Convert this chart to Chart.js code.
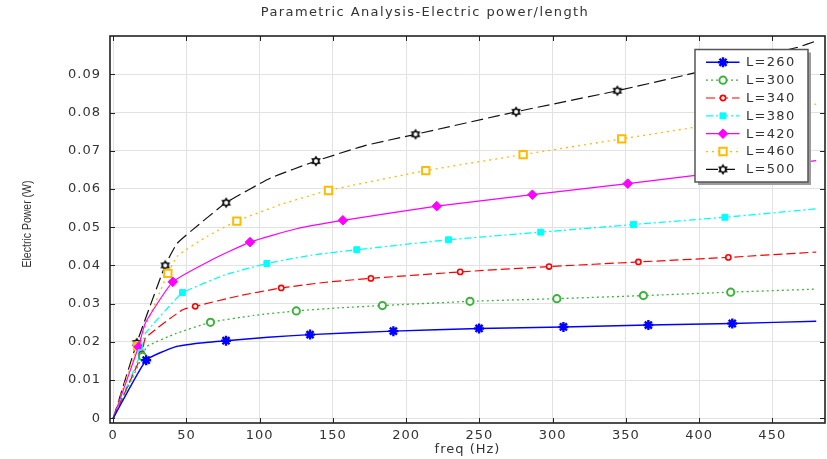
<!DOCTYPE html>
<html>
<head>
<meta charset="utf-8">
<script src="https://cdn.jsdelivr.net/npm/chart.js@4.4.1/dist/chart.umd.min.js"></script>
<style>
html,body{margin:0;padding:0;background:#fff;}
#wrap{width:827px;height:459px;position:relative;}
</style>
</head>
<body>
<div id="wrap"><canvas id="c" width="827" height="459"></canvas></div>
<script>
// ---- text ----
const chartTitle = 'Parametric Analysis-Electric power/length';
const xTitle = 'freq (Hz)';
const yTitle = 'Electric Power (W)';
const seriesLabels = ['L=260', 'L=300', 'L=340', 'L=380', 'L=420', 'L=460', 'L=500'];

// ---- ticks ----
const xTicks = [0, 50, 100, 150, 200, 250, 300, 350, 400, 450];
const xTickLabels = ['0', '50', '100', '150', '200', '250', '300', '350', '400', '450'];
const yTicks = [0, 0.01, 0.02, 0.03, 0.04, 0.05, 0.06, 0.07, 0.08, 0.09];
const yTickLabels = ['0', '0.01', '0.02', '0.03', '0.04', '0.05', '0.06', '0.07', '0.08', '0.09'];

// ---- series (freq in Hz, power in W); marks = indices that carry a marker ----
const freq260  = [0, 22.5, 42.3, 59.6, 77.0, 105.7, 134.4, 191.3, 249.8, 307.4, 365.4, 422.7, 480];
const power260 = [0, 0.0152, 0.0187, 0.0197, 0.0203, 0.0212, 0.0219, 0.0228, 0.0235, 0.0239, 0.0244, 0.0248, 0.0254];
const marks260 = [1, 4, 6, 7, 8, 9, 10, 11];

const freq300  = [0, 20.0, 23.0, 43.0, 66.4, 95.7, 125.0, 154.4, 183.8, 243.6, 302.9, 362.0, 421.6, 480];
const power300 = [0, 0.0162, 0.0188, 0.0222, 0.0251, 0.0269, 0.0281, 0.0289, 0.0295, 0.0306, 0.0313, 0.0321, 0.0330, 0.0338];
const marks300 = [1, 4, 6, 8, 9, 10, 11, 12];

const freq340  = [0, 19.6, 22.0, 46.9, 56.0, 85.4, 114.7, 145.3, 175.9, 236.9, 297.6, 358.6, 420.0, 480];
const power340 = [0, 0.0168, 0.0210, 0.0283, 0.0293, 0.0320, 0.0341, 0.0356, 0.0366, 0.0383, 0.0397, 0.0409, 0.0421, 0.0435];
const marks340 = [1, 4, 6, 8, 9, 10, 11, 12];

const freq380  = [0, 19.0, 22.0, 43.0, 47.3, 76.1, 104.9, 135.6, 166.3, 228.9, 291.9, 355.2, 417.7, 480];
const power380 = [0, 0.0172, 0.0222, 0.0313, 0.0329, 0.0375, 0.0405, 0.0427, 0.0441, 0.0467, 0.0487, 0.0507, 0.0526, 0.0548];
const marks380 = [1, 4, 6, 8, 9, 10, 11, 12];

const freq420  = [0, 17.3, 22.0, 40.7, 67.0, 93.4, 125.1, 156.8, 220.9, 286.2, 351.3, 480];
const power420 = [0, 0.0187, 0.0250, 0.0357, 0.0414, 0.0461, 0.0496, 0.0518, 0.0555, 0.0585, 0.0614, 0.0674];
const marks420 = [1, 3, 5, 7, 8, 9, 10];

const freq460  = [0, 16.6, 37.3, 44.0, 64.2, 84.4, 115.7, 147.0, 213.4, 279.9, 347.2, 396.0, 480];
const power460 = [0, 0.0189, 0.0379, 0.0425, 0.0476, 0.0516, 0.0561, 0.0596, 0.0648, 0.0690, 0.0731, 0.0761, 0.0822];
const marks460 = [1, 2, 5, 7, 8, 9, 10];

const freq500  = [0, 16.1, 35.5, 43.5, 54.1, 77.1, 107.7, 138.4, 172.4, 206.4, 275.1, 344.2, 394.0, 466.7, 480];
const power500 = [0, 0.0197, 0.0400, 0.0457, 0.0493, 0.0564, 0.0629, 0.0673, 0.0714, 0.0743, 0.0802, 0.0857, 0.0901, 0.0970, 0.0987];
const marks500 = [1, 2, 5, 7, 9, 10, 11];

// ---- marker image for L=500 ----
function starMarker() {
  const c = document.createElement('canvas');
  c.width = 12; c.height = 12;
  const g = c.getContext('2d');
  g.translate(6, 6);
  g.beginPath();
  for (let i = 0; i < 12; i++) {
    const r = i % 2 ? 3.4 : 5.6;
    const a = -Math.PI / 2 + i * Math.PI / 6;
    g.lineTo(r * Math.cos(a), r * Math.sin(a));
  }
  g.closePath();
  g.fillStyle = '#111';
  g.fill();
  g.beginPath();
  g.arc(0, 0, 2, 0, Math.PI * 2);
  g.fillStyle = '#fff';
  g.fill();
  return c;
}

const styles = [
  {color: '#0000ff', dash: [], width: 1.4, ps: 'star', r: 5, bw: 2.4, bg: '#0000ff'},
  {color: '#3cb43c', dash: [2, 3], width: 1.3, ps: 'circle', r: 3.6, bw: 2, bg: '#ffffff'},
  {color: '#ff0000', dash: [9, 4], width: 1.2, ps: 'circle', r: 2.6, bw: 1.6, bg: '#ffffff'},
  {color: '#00ffff', dash: [7, 3, 2, 3], width: 1.3, ps: 'rect', r: 4.2, bw: 1, bg: '#00ffff'},
  {color: '#ff00ff', dash: [], width: 1.2, ps: 'rectRot', r: 4.8, bw: 1, bg: '#ff00ff'},
  {color: '#ffbb00', dash: [2, 4], width: 1.3, ps: 'rect', r: 5.2, bw: 2, bg: '#ffffff'},
  {color: '#111111', dash: [12, 5], width: 1.2, ps: starMarker(), r: 5, bw: 1, bg: '#111111'}
];

const seriesFreq = [freq260, freq300, freq340, freq380, freq420, freq460, freq500];
const seriesPower = [power260, power300, power340, power380, power420, power460, power500];
const seriesMarks = [marks260, marks300, marks340, marks380, marks420, marks460, marks500];

const datasets = seriesLabels.map((lab, k) => {
  const s = styles[k];
  const marks = seriesMarks[k];
  return {
    label: lab,
    data: seriesFreq[k].map((f, i) => ({x: f, y: seriesPower[k][i]})),
    borderColor: s.color,
    backgroundColor: s.bg,
    borderWidth: s.width,
    borderDash: s.dash,
    tension: 0.15,
    pointStyle: s.ps,
    pointRadius: c => marks.includes(c.dataIndex) ? s.r : 0,
    pointHoverRadius: c => marks.includes(c.dataIndex) ? s.r : 0,
    pointBorderWidth: s.bw,
    pointBorderColor: s.color,
    pointBackgroundColor: s.bg,
    fill: false
  };
});

const textFont = '"DejaVu Sans", Verdana, sans-serif';

const decorPlugin = {
  id: 'decor',
  beforeDraw(chart) {
    chart.ctx.letterSpacing = '1px';
  },
  afterDatasetsDraw(chart) {
    const ctx = chart.ctx;
    const a = chart.chartArea;
    const xs = chart.scales.x, ys = chart.scales.y;
    ctx.save();
    ctx.strokeStyle = '#222';
    ctx.lineWidth = 1;
    ctx.beginPath();
    xTicks.forEach(v => {
      const px = Math.round(xs.getPixelForValue(v)) + 0.5;
      ctx.moveTo(px, a.bottom); ctx.lineTo(px, a.bottom - 5);
      ctx.moveTo(px, a.top); ctx.lineTo(px, a.top + 5);
    });
    yTicks.forEach(v => {
      const py = Math.round(ys.getPixelForValue(v)) + 0.5;
      ctx.moveTo(a.left, py); ctx.lineTo(a.left + 5, py);
      ctx.moveTo(a.right, py); ctx.lineTo(a.right - 5, py);
    });
    ctx.stroke();
    ctx.lineWidth = 1.6;
    ctx.strokeStyle = '#222';
    ctx.strokeRect(a.left, a.top, a.right - a.left, a.bottom - a.top);
    ctx.restore();
  },
  afterDraw(chart) {
    const ctx = chart.ctx;
    const a = chart.chartArea;
    // chart title
    ctx.save();
    ctx.letterSpacing = '1.4px';
    ctx.font = '13px ' + textFont;
    ctx.fillStyle = '#333';
    ctx.textAlign = 'center';
    ctx.textBaseline = 'middle';
    ctx.fillText(chartTitle, 425, 13);
    ctx.restore();

    // y axis title
    ctx.save();
    ctx.letterSpacing = '0px';
    ctx.translate(27, (a.top + a.bottom) / 2 - 5.5);
    ctx.rotate(-Math.PI / 2);
    ctx.scale(1, 1.3);
    ctx.font = '10.5px "Liberation Sans", Arial, sans-serif';
    ctx.fillStyle = '#333';
    ctx.textAlign = 'center';
    ctx.textBaseline = 'middle';
    ctx.fillText(yTitle, 0, 0);
    ctx.restore();

    // legend box
    const L = {x: 695, y: 49.5, w: 113, h: 132.5};
    ctx.save();
    ctx.letterSpacing = '0px';
    ctx.fillStyle = '#9c9c9c';
    ctx.fillRect(L.x + 3, L.y + 3, L.w, L.h);
    ctx.fillStyle = '#ffffff';
    ctx.fillRect(L.x, L.y, L.w, L.h);
    ctx.strokeStyle = '#555';
    ctx.lineWidth = 1.5;
    ctx.strokeRect(L.x, L.y, L.w, L.h);
    chart.data.datasets.forEach((ds, k) => {
      const s = styles[k];
      const yy = 62.3 + k * 17.85;
      ctx.save();
      ctx.strokeStyle = s.color;
      ctx.lineWidth = s.width;
      ctx.setLineDash(s.dash);
      ctx.beginPath();
      ctx.moveTo(706, yy); ctx.lineTo(739.5, yy);
      ctx.stroke();
      ctx.setLineDash([]);
      ctx.fillStyle = s.bg;
      ctx.strokeStyle = s.color;
      ctx.lineWidth = s.bw;
      Chart.helpers.drawPoint(ctx, {pointStyle: s.ps, rotation: 0, radius: s.r, borderWidth: s.bw}, 723, yy);
      ctx.restore();
      ctx.save();
      ctx.letterSpacing = '1.3px';
      ctx.font = '13px ' + textFont;
      ctx.fillStyle = '#333';
      ctx.textAlign = 'left';
      ctx.textBaseline = 'middle';
      ctx.fillText(ds.label, 746, yy + 0.5);
      ctx.restore();
    });
    ctx.restore();
    ctx.letterSpacing = '0px';
  }
};

new Chart(document.getElementById('c'), {
  type: 'line',
  data: {datasets},
  options: {
    responsive: false,
    animation: false,
    devicePixelRatio: 1,
    layout: {padding: {top: 36, right: 2, left: 0, bottom: 0}},
    plugins: {legend: {display: false}, title: {display: false}, tooltip: {enabled: false}},
    scales: {
      x: {
        type: 'linear',
        min: -2.2,
        max: 486,
        afterBuildTicks: s => { s.ticks = xTicks.map(v => ({value: v})); },
        afterFit: s => { s.height = 36; },
        grid: {color: '#e2e2e2', lineWidth: 1, drawTicks: false},
        border: {display: false},
        ticks: {
          padding: 5, color: '#333', autoSkip: false, maxRotation: 0,
          font: {family: textFont, size: 13},
          callback: (v, i) => xTickLabels[i]
        },
        title: {
          display: true, text: xTitle, color: '#333',
          font: {family: textFont, size: 13},
          padding: {top: 0, bottom: 2}
        }
      },
      y: {
        type: 'linear',
        min: -0.00123,
        max: 0.10002,
        afterBuildTicks: s => { s.ticks = yTicks.map(v => ({value: v})); },
        afterFit: s => { s.width = 110; },
        grid: {color: '#e2e2e2', lineWidth: 1, drawTicks: false},
        border: {display: false},
        ticks: {
          padding: 9, color: '#333', autoSkip: false,
          font: {family: textFont, size: 13},
          callback: (v, i) => yTickLabels[i]
        },
        title: {display: false}
      }
    }
  },
  plugins: [decorPlugin]
});
</script>
</body>
</html>
